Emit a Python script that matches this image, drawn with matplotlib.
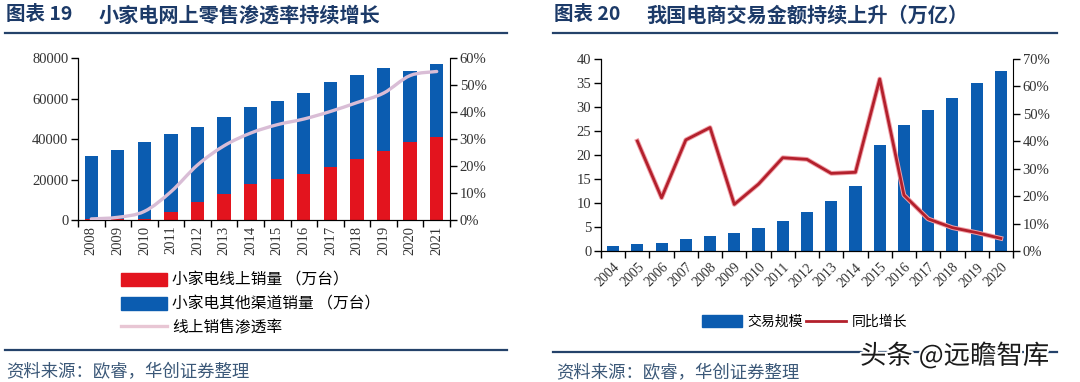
import matplotlib
matplotlib.use("Agg")
import matplotlib.pyplot as plt
import numpy as np
from matplotlib.lines import Line2D
from matplotlib.path import Path
from matplotlib.patches import PathPatch, Patch
import matplotlib.patheffects as pe
from matplotlib.ticker import FuncFormatter

# ---------------- data ----------------
years_l = ["2008", "2009", "2010", "2011", "2012", "2013", "2014",
           "2015", "2016", "2017", "2018", "2019", "2020", "2021"]
online_sales = [300, 400, 600, 4100, 8700, 12900, 17600,
                20100, 22600, 26200, 30200, 34100, 38300, 41200]
total_sales = [31600, 34600, 38700, 42700, 45800, 51100, 55900,
               59000, 62500, 68100, 71600, 74900, 73600, 76900]
penetration = [0.4, 1.0, 3.2, 10.5, 20.4, 27.5, 32.2,
               35.3, 37.4, 40.2, 43.5, 47.0, 53.5, 55.0]

years_r = ["2004", "2005", "2006", "2007", "2008", "2009", "2010", "2011", "2012",
           "2013", "2014", "2015", "2016", "2017", "2018", "2019", "2020"]
trade_scale = [1.0, 1.5, 1.7, 2.4, 3.2, 3.8, 4.8, 6.3, 8.2,
               10.5, 13.6, 22.0, 26.3, 29.4, 31.9, 35.1, 37.6]
yoy_growth = [np.nan, 40.1, 19.4, 40.5, 45.0, 17.0, 24.4, 34.0, 33.4,
              28.3, 28.7, 62.7, 20.4, 11.7, 8.5, 6.7, 4.6]

other_sales = [t - o for t, o in zip(total_sales, online_sales)]

# ---------------- style ----------------
CJK = ["Noto Sans CJK SC", "DejaVu Sans"]
NUM = ["Liberation Serif", "DejaVu Serif"]
TITLE_C = "#1c3a68"
LINE_C = "#24426a"
RED = "#e3141e"
BLUE = "#0b5cb0"

W, H = 1080, 382
fig = plt.figure(figsize=(W / 100, H / 100), dpi=100)
fig.patch.set_facecolor("white")


def fx(px):
    return px / W


def fy(py):
    return 1 - py / H


# titles
fig.text(fx(6), fy(15), "图表 19", family=CJK, fontsize=14, weight="bold",
         color=TITLE_C, va="center", ha="left")
fig.text(fx(99), fy(15), "小家电网上零售渗透率持续增长", family=CJK, fontsize=14.5,
         weight="bold", color=TITLE_C, va="center", ha="left")
fig.text(fx(554), fy(15), "图表 20", family=CJK, fontsize=14, weight="bold",
         color=TITLE_C, va="center", ha="left")
fig.text(fx(646), fy(15), "我国电商交易金额持续上升（万亿）", family=CJK, fontsize=14.5,
         weight="bold", color=TITLE_C, va="center", ha="left")

# separator lines
for (x0, x1, y) in [(5, 507, 33), (553, 1057, 33), (5, 507, 350), (553, 1057, 352)]:
    fig.add_artist(Line2D([fx(x0), fx(x1)], [fy(y), fy(y)], color=LINE_C, lw=1.6,
                          transform=fig.transFigure))

# sources
fig.text(fx(6), fy(372), "资料来源：欧睿，华创证券整理", family=CJK, fontsize=12.5,
         color="#3b5878", va="center", ha="left", style="italic")
fig.text(fx(556), fy(373), "资料来源：欧睿，华创证券整理", family=CJK, fontsize=12.5,
         color="#3b5878", va="center", ha="left", style="italic")

# ---------------- left chart ----------------
ax1 = fig.add_axes([fx(78), fy(220), fx(450 - 78), (220 - 58) / H])
x_l = np.arange(len(years_l))
ax1.bar(x_l, online_sales, width=0.5, color=RED, zorder=2)
ax1.bar(x_l, other_sales, width=0.5, bottom=online_sales, color=BLUE, zorder=2)
ax1.set_xlim(-0.5, len(years_l) - 0.5)
ax1.set_ylim(0, 80000)
ax1.set_yticks(range(0, 80001, 20000))
ax1.set_xticks(x_l)
ax1.set_xticklabels(years_l, rotation=90, family=NUM, fontsize=10.5)
ax1.set_xticks(np.arange(-0.5, len(years_l), 1.0), minor=True)
ax1.tick_params(axis="x", which="major", length=0, pad=4)
ax1.tick_params(axis="x", which="minor", length=5, width=1, direction="out")
ax1.tick_params(axis="y", length=5, width=1, direction="out", pad=2)
for lab in ax1.get_yticklabels():
    lab.set_family(NUM)
    lab.set_fontsize(10.5)
    lab.set_color("#333333")
for lab in ax1.get_xticklabels():
    lab.set_color("#333333")
ax1.spines["top"].set_visible(False)
ax1.spines["right"].set_visible(False)
ax1.set_facecolor("none")

ax1b = ax1.twinx()
ax1b.set_ylim(0, 60)
ax1b.set_yticks(range(0, 61, 10))
ax1b.yaxis.set_major_formatter(FuncFormatter(lambda v, p: f"{int(v)}%"))
ax1b.tick_params(axis="y", length=5, width=1, direction="out", pad=2)
for lab in ax1b.get_yticklabels():
    lab.set_family(NUM)
    lab.set_fontsize(10.5)
    lab.set_color("#333333")
ax1b.spines["top"].set_visible(False)

# smooth penetration line (Catmull-Rom through data points)
pts = np.column_stack([x_l, penetration]).astype(float)
verts = [tuple(pts[0])]
codes = [Path.MOVETO]
n = len(pts)
for i in range(n - 1):
    p0 = pts[i - 1] if i > 0 else pts[i]
    p1 = pts[i]
    p2 = pts[i + 1]
    p3 = pts[i + 2] if i + 2 < n else pts[i + 1]
    c1 = p1 + (p2 - p0) / 6.0
    c2 = p2 - (p3 - p1) / 6.0
    verts += [tuple(c1), tuple(c2), tuple(p2)]
    codes += [Path.CURVE4] * 3
ax1b.add_patch(PathPatch(Path(verts, codes), facecolor="none", edgecolor="#d9bdd6",
                         lw=2.4, zorder=3, capstyle="round"))

# left legend
handles_l = [Patch(facecolor=RED, edgecolor=RED),
             Patch(facecolor=BLUE, edgecolor=BLUE),
             Line2D([], [], color="#e8c6d4", lw=2.4)]
labels_l = ["小家电线上销量 （万台）", "小家电其他渠道销量 （万台）", "线上销售渗透率"]
fig.legend(handles_l, labels_l, loc="upper left", bbox_to_anchor=(fx(121), fy(272)),
           frameon=False, prop={"family": CJK, "size": 11.3}, handlelength=2.9,
           handleheight=0.9, handletextpad=0.35, labelspacing=0.42, borderaxespad=0,
           borderpad=0)

# ---------------- right chart ----------------
ax2 = fig.add_axes([fx(601), fy(251), fx(1013 - 601), (251 - 59) / H])
x_r = np.arange(len(years_r))
ax2.bar(x_r, trade_scale, width=0.5, color=BLUE, zorder=2, label="交易规模")
ax2.set_xlim(-0.5, len(years_r) - 0.5)
ax2.set_ylim(0, 40)
ax2.set_yticks(range(0, 41, 5))
ax2.set_xticks(x_r)
ax2.set_xticklabels(years_r, rotation=45, ha="right", rotation_mode="anchor",
                    family=NUM, fontsize=10)
ax2.set_xticks(np.arange(-0.5, len(years_r), 1.0), minor=True)
ax2.tick_params(axis="x", which="major", length=0, pad=7)
ax2.tick_params(axis="x", which="minor", length=5, width=1, direction="out")
ax2.tick_params(axis="y", length=5, width=1, direction="out", pad=2)
for lab in ax2.get_yticklabels():
    lab.set_family(NUM)
    lab.set_fontsize(10.5)
    lab.set_color("#333333")
for lab in ax2.get_xticklabels():
    lab.set_color("#333333")
ax2.spines["top"].set_visible(False)
ax2.spines["right"].set_visible(False)
ax2.set_facecolor("none")

ax2b = ax2.twinx()
ax2b.set_ylim(0, 70)
ax2b.set_yticks(range(0, 71, 10))
ax2b.yaxis.set_major_formatter(FuncFormatter(lambda v, p: f"{int(v)}%"))
ax2b.tick_params(axis="y", length=5, width=1, direction="out", pad=2)
for lab in ax2b.get_yticklabels():
    lab.set_family(NUM)
    lab.set_fontsize(10.5)
    lab.set_color("#333333")
ax2b.spines["top"].set_visible(False)
ax2b.plot(x_r, yoy_growth, color="#b3202c", lw=2.0, zorder=3,
          path_effects=[pe.Stroke(linewidth=3.4, foreground="#f0a0a8"), pe.Normal()])

handles_r = [Patch(facecolor=BLUE, edgecolor=BLUE),
             Line2D([], [], color="#b3202c", lw=2.0)]
fig.legend(handles_r, ["交易规模", "同比增长"], loc="center left",
           bbox_to_anchor=(fx(702), fy(322)), ncol=2, frameon=False,
           prop={"family": CJK, "size": 10}, handlelength=2.9, handleheight=0.9,
           handletextpad=0.4, columnspacing=0.2, borderaxespad=0, borderpad=0)

# watermark
fig.text(fx(860), fy(356), "头条 @远瞻智库", family=CJK, fontsize=19, color="#1a1a1a",
         va="center", ha="left",
         path_effects=[pe.withStroke(linewidth=3, foreground="white")])

fig.savefig("out.png", dpi=100, facecolor="white")
